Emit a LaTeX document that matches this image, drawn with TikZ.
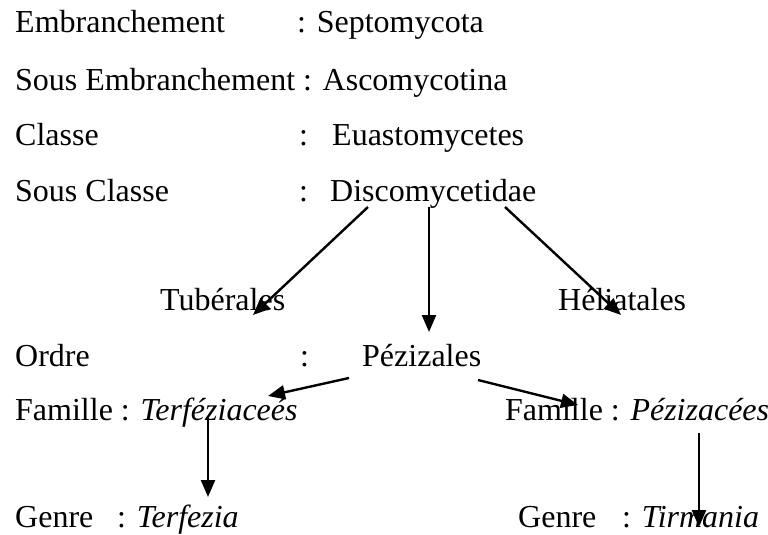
\documentclass[tikz,border=0pt]{standalone}
\usepackage{fontspec}
\setmainfont{Liberation Serif}
\usetikzlibrary{arrows.meta}
\begin{document}
\begin{tikzpicture}[x=1pt,y=-1pt,
  lbl/.style={anchor=base west,inner sep=0pt,font=\fontsize{32}{36}\selectfont},
  arr/.style={line width=2.4pt,-{Triangle[length=17pt,width=14pt]}}]
\useasboundingbox (0,0) rectangle (768,535);
% rows
\node[lbl] (emb) at (15,33) {Embranchement};
\node[lbl] (embv) at (297,33) {: Septomycota};
\node[lbl] (semb) at (15,90) {Sous Embranchement : Ascomycotina};
\node[lbl] (cla) at (15,145) {Classe};
\node[lbl] (clac) at (299,145) {:};
\node[lbl] (clav) at (332,145) {Euastomycetes};
\node[lbl] (scla) at (15,201) {Sous Classe};
\node[lbl] (sclac) at (299,201) {:};
\node[lbl] (disco) at (330,201) {Discomycetidae};
\node[lbl] (tub) at (160,310) {Tubérales};
\node[lbl] (hel) at (558,310) {Héliatales};
\node[lbl] (ord) at (15,366) {Ordre};
\node[lbl] (ordc) at (300,366) {:};
\node[lbl] (pez) at (362,366) {Pézizales};
\node[lbl] (fam1) at (15,420) {Famille : \textit{Terféziaceés}};
\node[lbl] (fam2) at (505,420) {Famille : \textit{Pézizacées}};
\node[lbl] (gen1) at (15,527) {Genre};
\node[lbl] (gen1v) at (117,527) {: \textit{Terfezia}};
\node[lbl] (gen2) at (518,527) {Genre};
\node[lbl] (gen2v) at (622,527) {: \textit{Tirmania}};
% arrow end points
\coordinate (d1) at (368,207);
\coordinate (d2) at (429,207);
\coordinate (d3) at (505,207);
\coordinate (tubT) at (253,315);
\coordinate (pezT) at (429,332);
\coordinate (helT) at (621,315);
\coordinate (p1) at (349,378);
\coordinate (p2) at (478,380);
\coordinate (f1T) at (268,396);
\coordinate (f2T) at (578,405);
\coordinate (f1B) at (208,418);
\coordinate (g1T) at (208,497);
\coordinate (f2B) at (699,433);
\coordinate (g2T) at (699,527);
% arrows
\draw[arr] (d1) -- (tubT);
\draw[arr] (d2) -- (pezT);
\draw[arr] (d3) -- (helT);
\draw[arr] (p1) -- (f1T);
\draw[arr] (p2) -- (f2T);
\draw[arr] (f1B) -- (g1T);
\draw[arr] (f2B) -- (g2T);
\end{tikzpicture}
\end{document}
